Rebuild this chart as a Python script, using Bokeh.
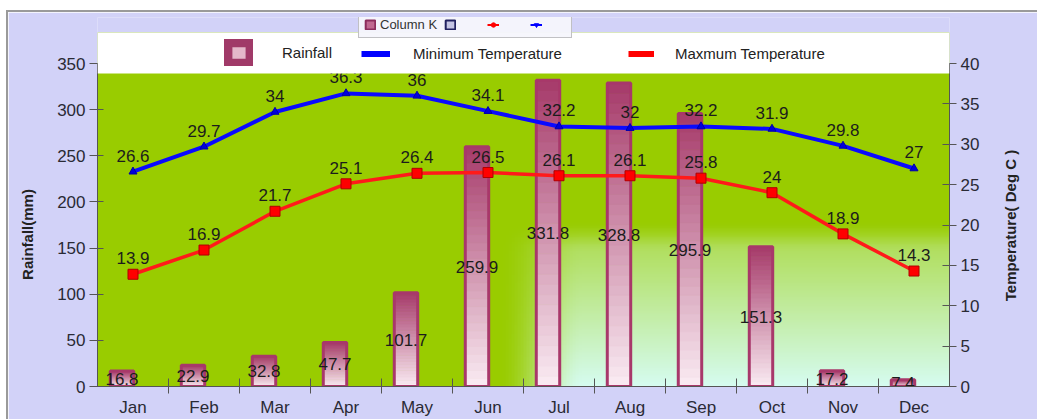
import math
import numpy as np
from bokeh.plotting import figure
from bokeh.models import (Range1d, LinearAxis, FixedTicker, Legend, LegendItem,
                          BoxAnnotation, Spacer, Label)
from bokeh.layouts import column, row
from bokeh.core.properties import value
from bokeh.embed import file_html
from bokeh.resources import INLINE

# ---------------- data ----------------
months = ["Jan", "Feb", "Mar", "Apr", "May", "Jun",
          "Jul", "Aug", "Sep", "Oct", "Nov", "Dec"]
rainfall = [16.8, 22.9, 32.8, 47.7, 101.7, 259.9, 331.8, 328.8, 295.9, 151.3, 17.2, 7.4]
# blue series (legend text: "Minimum Temperature")
blue_temp = [26.6, 29.7, 34, 36.3, 36, 34.1, 32.2, 32, 32.2, 31.9, 29.8, 27]
# red series (legend text: "Maxmum Temperature")
red_temp = [13.9, 16.9, 21.7, 25.1, 26.4, 26.5, 26.1, 26.1, 25.8, 24, 18.9, 14.3]
rain_ticks = [0, 50, 100, 150, 200, 250, 300, 350]
temp_ticks = [0, 5, 10, 15, 20, 25, 30, 35, 40]

FONT = "Liberation Sans"
PX_PER_RAIN = 323 / 350          # screen px per rainfall unit
PX_PER_CAT = 852 / 12            # screen px per month
Y_END = 369 / PX_PER_RAIN        # frame spans 369 px (page y 17..386)
T_END = Y_END * 40 / 350
Y_GREEN = 354 / PX_PER_RAIN      # green plot area tops out at page y 32
Y_LEG = 313 / PX_PER_RAIN        # white legend strip bottom (page y 73)
BAR_SHIFT = -0.155
BAR_W = 0.33
NAN = float("nan")

xs = [i + 1 for i in range(len(months))]

p = figure(width=1029, height=407, x_range=Range1d(0.5, 12.5), y_range=Range1d(0, Y_END),
           output_backend="svg", toolbar_location=None,
           min_border_left=89, min_border_right=88, min_border_top=5, min_border_bottom=33,
           background_fill_color="#d2d2f8", border_fill_color="#d2d2f8",
           outline_line_color=None)
p.extra_y_ranges = {"temp": Range1d(0, T_END)}
p.grid.visible = False

# ---------------- background gradient ----------------
H, W = 200, 280
u = np.linspace(0, 1, W)[None, :]
v = np.linspace(0, 1, H)[:, None]


def smooth(e0, e1, x):
    t = np.clip((x - e0) / (e1 - e0), 0, 1)
    return t * t * (3 - 2 * t)


ty = np.clip(1 - 1.55 * v, 0, 1) * smooth(0.47, 0.38, v)
t = smooth(0.47, 0.57, u) * ty
green = np.array([153, 204, 0], dtype=float)
light = np.array([214, 252, 240], dtype=float)
rgb = green[None, None, :] * (1 - t[..., None]) + light[None, None, :] * t[..., None]
img = np.zeros((H, W), dtype=np.uint32)
view = img.view(np.uint8).reshape(H, W, 4)
view[..., 0:3] = rgb.astype(np.uint8)
view[..., 3] = 255
p.image_rgba(image=[img], x=0.5, y=0, dw=12, dh=Y_GREEN)

# ---------------- bars (vertical gradient) ----------------
N = 30
dark = np.array([166, 58, 106], dtype=float)
pale = np.array([250, 236, 243], dtype=float)
L, R, B, T, C = [], [], [], [], []
for x, r in zip(xs, rainfall):
    xc = x + BAR_SHIFT
    for k in range(N):
        f = (k + 0.5) / N
        c = pale * (1 - f) + dark * f
        L.append(xc - BAR_W / 2)
        R.append(xc + BAR_W / 2)
        B.append(r * k / N)
        T.append(r * (k + 1) / N)
        C.append("#%02x%02x%02x" % tuple(int(round(z)) for z in c))
p.quad(left=L, right=R, bottom=B, top=T, fill_color=C, line_color=C, line_width=0.8)
bar_x = [x + BAR_SHIFT for x in xs]
p.vbar(x=bar_x, width=BAR_W, top=rainfall, bottom=0, fill_color=None,
       line_color="#a8386a", line_width=3)

p.text(x=bar_x, y=[r / 2 for r in rainfall], text=[f"{r:g}" for r in rainfall],
       text_align="center", text_baseline="middle", text_font=value(FONT),
       text_font_size="17px", text_color="#1c1c1c")

# ---------------- lines ----------------
p.line(x=xs, y=blue_temp, y_range_name="temp", line_color="#0a0aff", line_width=4)
p.scatter(x=xs, y=blue_temp, y_range_name="temp", marker="triangle", size=8,
          fill_color="#0000dd", line_color="#0000aa")
p.line(x=xs, y=red_temp, y_range_name="temp", line_color="#ff1a1a", line_width=3.5)
p.scatter(x=xs, y=red_temp, y_range_name="temp", marker="square", size=10,
          fill_color="#ff0000", line_color="#b00000")

for series in (blue_temp, red_temp):
    p.text(x=xs, y=series, y_range_name="temp", text=[f"{v_:g}" for v_ in series],
           y_offset=-16, text_align="center", text_baseline="middle",
           text_font=value(FONT), text_font_size="17px", text_color="#1c1c1c")

# ---------------- axes ----------------
ya = p.yaxis[0]
ya.ticker = FixedTicker(ticks=rain_ticks)
ya.bounds = (0, 350)
ya.major_label_text_font = FONT
ya.major_label_text_font_size = "17px"
ya.major_label_text_color = "#2a2a35"
ya.major_label_standoff = 4
ya.major_tick_in = 6
ya.major_tick_out = 8
ya.minor_tick_line_color = None
ya.axis_line_color = "#555555"
ya.major_tick_line_color = "#555555"

ra = LinearAxis(y_range_name="temp", ticker=FixedTicker(ticks=temp_ticks), bounds=(0, 40))
ra.major_label_text_font = FONT
ra.major_label_text_font_size = "17px"
ra.major_label_text_color = "#2a2a35"
ra.major_label_standoff = 4
ra.major_tick_in = 7
ra.major_tick_out = 7
ra.minor_tick_line_color = None
ra.axis_line_color = "#555555"
ra.major_tick_line_color = "#555555"
p.add_layout(ra, "right")

xa = p.xaxis[0]
xa.ticker = FixedTicker(ticks=xs, minor_ticks=[x + 0.5 for x in xs[:-1]])
xa.major_label_overrides = {x: m for x, m in zip(xs, months)}
xa.major_tick_in = 0
xa.major_tick_out = 0
xa.minor_tick_in = 8
xa.minor_tick_out = 7
xa.minor_tick_line_color = "#555555"
xa.axis_line_color = "#555555"
xa.major_label_text_font = FONT
xa.major_label_text_font_size = "17px"
xa.major_label_text_color = "#2a2a35"
xa.major_label_standoff = 4

# axis titles: labels in the side panels (not clipped), placed via the frame scales
for txt, page_x, page_y, side in (("Rainfall(mm)", 27, 234, "left"),
                                  ("Temperature( Deg C )", 1010, 225, "right")):
    lbl = Label(x=0.5 + (page_x - 97) / PX_PER_CAT, y=(386 - page_y) / PX_PER_RAIN,
                x_units="data", y_units="data", text=txt,
                angle=math.pi / 2, text_align="center", text_baseline="middle",
                text_font=FONT, text_font_style="bold", text_font_size="15px",
                text_color="#222222")
    p.add_layout(lbl, side)

# ---------------- legends ----------------
d_col = p.rect(x=[NAN], y=[NAN], width=[1], height=[1], fill_color="#c06890",
               line_color="#8c2c5c", line_width=2)
d_nav = p.rect(x=[NAN], y=[NAN], width=[1], height=[1], fill_color="#c4c4e4",
               line_color="#202060", line_width=2)
d_rl = p.line(x=[NAN], y=[NAN], line_color="#ff0000", line_width=2)
d_rs = p.scatter(x=[NAN], y=[NAN], marker="circle", size=9, fill_color="#ff0000", line_color="#ff0000")
d_bl = p.line(x=[NAN], y=[NAN], line_color="#0000ff", line_width=2)
d_bs = p.scatter(x=[NAN], y=[NAN], marker="inverted_triangle", size=9, fill_color="#0000ff",
                 line_color="#0000ff")

small = Legend(items=[LegendItem(label="Column K", renderers=[d_col]),
                      LegendItem(label=" ", renderers=[d_nav]),
                      LegendItem(label=" ", renderers=[d_rl, d_rs]),
                      LegendItem(label=" ", renderers=[d_bl, d_bs])],
               location=(261, 348), orientation="horizontal",
               glyph_width=12, glyph_height=11, label_height=13, label_standoff=4, spacing=7,
               padding=5, margin=0, label_text_font=FONT, label_text_font_size="13px",
               label_text_color="#333333",
               background_fill_color="#f6f6fc", border_line_color="#8c8c8c")
p.add_layout(small, "center")

white = BoxAnnotation(bottom=Y_LEG, top=Y_GREEN, fill_color="white", fill_alpha=1,
                      line_color=None)
p.add_layout(white)

i_rain = p.quad(left=[NAN], right=[NAN], bottom=[NAN], top=[NAN], fill_color="#e4b8ca",
                line_color="#a03a68", line_width=10, line_join="round")
i_blue = p.line(x=[NAN], y=[NAN], line_color="#0000ff", line_width=6)
i_red = p.line(x=[NAN], y=[NAN], line_color="#ff0000", line_width=6)


def mk(label, rend, x, y, gw, gh, standoff):
    return Legend(items=[LegendItem(label=label, renderers=[rend])], location=(x, y),
                  orientation="horizontal", glyph_width=gw, glyph_height=gh,
                  label_standoff=standoff, padding=0, margin=0, spacing=0,
                  label_text_font=FONT, label_text_font_size="15px", label_text_color="#222222",
                  background_fill_alpha=0, border_line_alpha=0)


p.add_layout(mk("Rainfall", i_rain, 127, 320.5, 29, 27, 29), "center")
p.add_layout(mk("Minimum Temperature", i_blue, 264, 322, 29, 21, 23), "center")
p.add_layout(mk("Maxmum Temperature", i_red, 531, 322, 26, 21, 21), "center")

# ---------------- page layout ----------------
GREY = "#9a9a9a"
layout = column(
    Spacer(width=1037, height=10),
    row(Spacer(width=6, height=409),
        column(Spacer(width=1031, height=2, styles={"background-color": GREY}),
               row(Spacer(width=2, height=407, styles={"background-color": GREY}), p))))

open("out.html", "w").write(file_html(layout, INLINE))
